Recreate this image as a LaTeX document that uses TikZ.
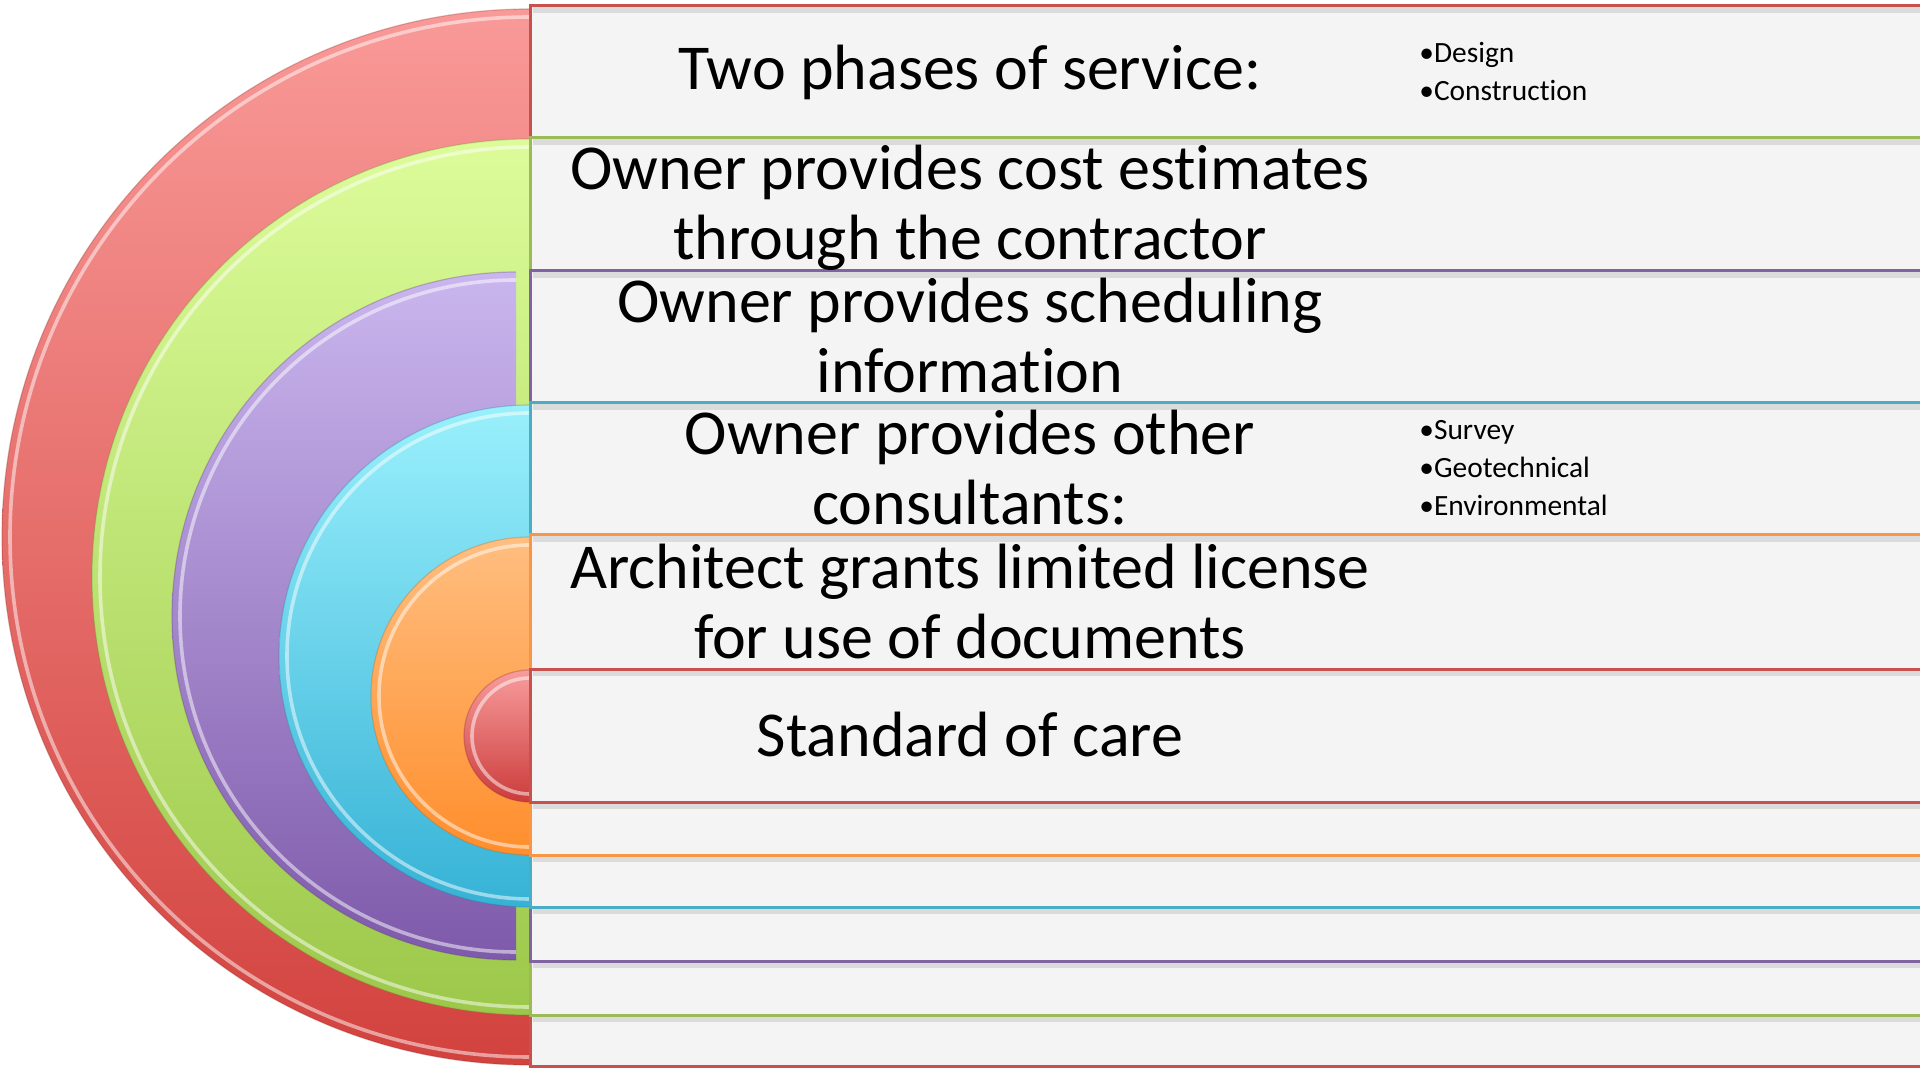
\documentclass[tikz,border=0pt]{standalone}
\usepackage{fontspec}
\setmainfont{Carlito}[Ligatures=NoCommon]
\definecolor{redTop}{HTML}{F99A98}
\definecolor{redBot}{HTML}{D2423E}
\definecolor{greenTop}{HTML}{DCFC9A}
\definecolor{greenBot}{HTML}{9CC84A}
\definecolor{purpleTop}{HTML}{CAB6EE}
\definecolor{purpleBot}{HTML}{7E5AAA}
\definecolor{cyanTop}{HTML}{9AF0FC}
\definecolor{cyanBot}{HTML}{36B2D6}
\definecolor{orangeTop}{HTML}{FFBE80}
\definecolor{orangeBot}{HTML}{FF8E2C}
\definecolor{redTopB}{HTML}{F89C9C}
\definecolor{redBotB}{HTML}{CC3C3C}
\definecolor{bred}{HTML}{C8504D}
\definecolor{bgreen}{HTML}{9BBB59}
\definecolor{bpurple}{HTML}{8064A2}
\definecolor{bcyan}{HTML}{4BACC6}
\definecolor{borange}{HTML}{F79646}
\definecolor{boxfill}{HTML}{F4F4F4}
\newcommand\hdisk[5]{%
  \begin{scope}
    \clip ({#1-#3-10},{#2-#3-10}) rectangle (#1,{#2+#3+10});
    \shade[top color=#4,bottom color=#5] (#1,#2) circle[radius=#3];
    \draw[white,opacity=0.5,line width=1.8pt] (#1,#2) circle[radius={#3-8}];
    \draw[#5!70!black,opacity=0.3,line width=0.6pt] (#1,#2) circle[radius=#3];
  \end{scope}}
\newcommand\rowbox[3]{%
  \fill[boxfill] (530,#1) rectangle (1940,#2);
  \draw[black,opacity=0.10,line width=3pt] (533,{#1+4}) -- (1940,{#1+4});
  \draw[black,opacity=0.10,line width=3pt] (533,{#2+4}) -- (1940,{#2+4});
  \draw[#3,line width=1.5pt] (1940,#1) -- (530,#1) -- (530,#2) -- (1940,#2);}
\begin{document}
\begin{tikzpicture}[x=0.5pt,y=-0.5pt,
  maintext/.style={font=\fontsize{32}{35}\selectfont,align=center,inner sep=0pt,text=black},
  bullettext/.style={font=\fontsize{14.7}{18}\selectfont,inner sep=0pt,anchor=base west,text=black}]
\useasboundingbox (0,0) rectangle (1920,1068);
\clip (0,0) rectangle (1920,1068);
\fill[white] (0,0) rectangle (1920,1068);
% layers from outside in
\hdisk{530}{537}{528}{redTop}{redBot}
\rowbox{6}{1066}{bred}
\hdisk{530}{577}{438}{greenTop}{greenBot}
\rowbox{138}{1015}{bgreen}
\hdisk{516}{616}{344}{purpleTop}{purpleBot}
\rowbox{271}{961}{bpurple}
\hdisk{530}{656}{251}{cyanTop}{cyanBot}
\rowbox{403}{907}{bcyan}
\hdisk{530}{696}{159}{orangeTop}{orangeBot}
\rowbox{535}{855}{borange}
\hdisk{530}{736}{66}{redTopB}{redBotB}
\rowbox{669}{802}{bred}
% texts
\node[maintext] (t1) at (970,72) {Two phases of service:};
\node[maintext] (t2) at (970,208) {Owner provides cost estimates\\through the contractor};
\node[maintext] (t3) at (970,336) {Owner provides scheduling\\information};
\node[maintext] (t4) at (970,468) {Owner provides other\\consultants:};
\node[maintext] (t5) at (970,602) {Architect grants limited license\\for use of documents};
\node[maintext] (t6) at (970,735) {Standard of care};
\node[bullettext] (b1) at (1419,63) {•Design};
\node[bullettext] (b2) at (1419,101) {•Construction};
\node[bullettext] (b3) at (1419,440) {•Survey};
\node[bullettext] (b4) at (1419,478) {•Geotechnical};
\node[bullettext] (b5) at (1419,516) {•Environmental};
\end{tikzpicture}
\end{document}
